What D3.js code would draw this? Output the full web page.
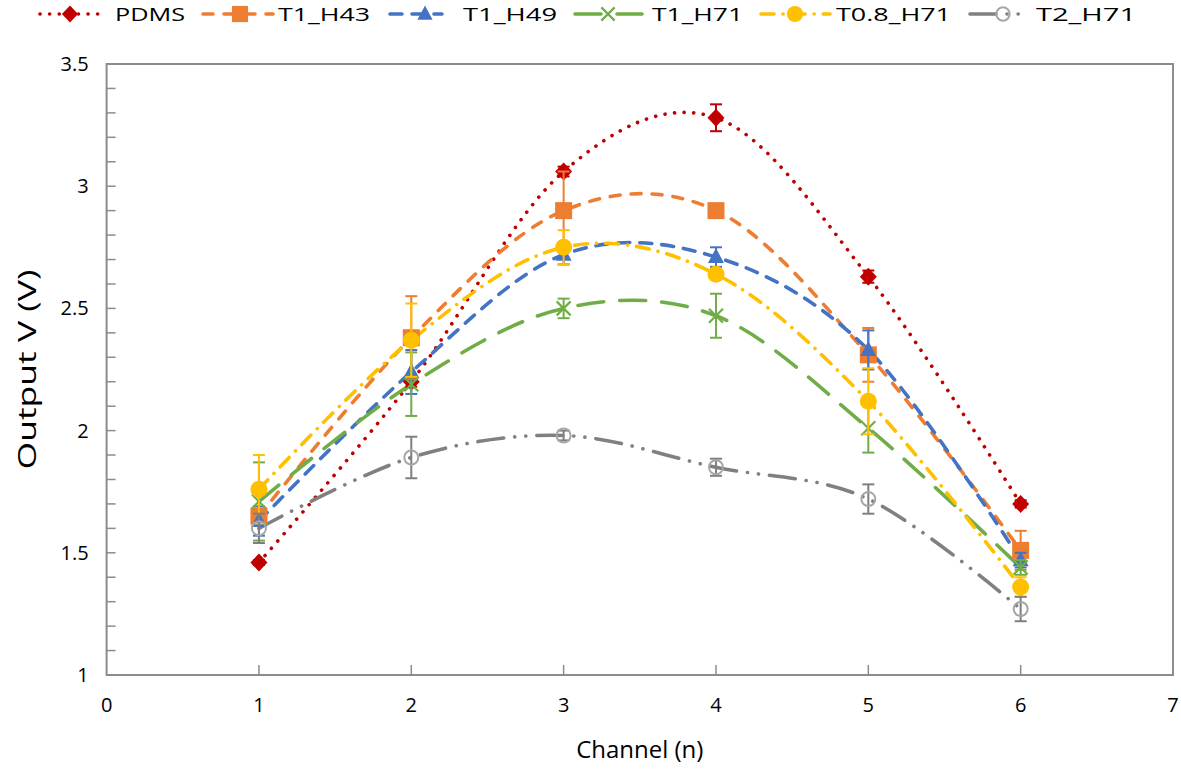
<!DOCTYPE html>
<html><head><meta charset="utf-8">
<script src="https://cdn.jsdelivr.net/npm/d3@7"></script>
<style>body{margin:0;background:#fff}svg{display:block}text{font-family:"Open Sans",sans-serif;fill:#000}</style>
</head><body><svg id="c" width="1181" height="774"></svg>
<script>
// ---- data ----
const channels = [1, 2, 3, 4, 5, 6];
const seriesNames = ["PDMS", "T1_H43", "T1_H49", "T1_H71", "T0.8_H71", "T2_H71"];
const pdms      = [1.46, 2.20, 3.06, 3.28, 2.63, 1.70];
const pdmsErr   = [0.01, 0.02, 0.02, 0.055, 0.025, 0.015];
const t1h43     = [1.65, 2.38, 2.90, 2.90, 2.31, 1.51];
const t1h43Err  = [0.03, 0.17, 0.16, 0.02, 0.11, 0.08];
const t1h49     = [1.63, 2.24, 2.72, 2.71, 2.33, 1.47];
const t1h49Err  = [0.06, 0.09, 0.04, 0.04, 0.08, 0.03];
const t1h71     = [1.71, 2.19, 2.50, 2.47, 2.01, 1.44];
const t1h71Err  = [0.16, 0.13, 0.04, 0.09, 0.10, 0.03];
const t08h71    = [1.76, 2.37, 2.75, 2.64, 2.12, 1.36];
const t08h71Err = [0.14, 0.15, 0.07, 0.02, 0.135, 0.04];
const t2h71     = [1.60, 1.89, 1.98, 1.85, 1.72, 1.27];
const t2h71Err  = [0.06, 0.085, 0.02, 0.035, 0.06, 0.05];
const xTicks = [0, 1, 2, 3, 4, 5, 6, 7];
const yTicks = [1, 1.5, 2, 2.5, 3, 3.5];
const xTitle = "Channel (n)";
const yTitle = "Output V (V)";

const values = [pdms, t1h43, t1h49, t1h71, t08h71, t2h71];
const errors = [pdmsErr, t1h43Err, t1h49Err, t1h71Err, t08h71Err, t2h71Err];

// ---- styles ----
const styles = [
  {color:"#C00000", dash:"0.1 9.5", marker:"diamond"},
  {color:"#ED7D31", dash:"10 11", marker:"square"},
  {color:"#4472C4", dash:"12 10", marker:"triangle"},
  {color:"#70AD47", dash:"26 16", marker:"x"},
  {color:"#FFC000", dash:"13 9 0.1 9", marker:"circle"},
  {color:"#808080", dash:"26 11 0.1 11 0.1 11", marker:"ocircle"}
];
const legendPos = [
  {x0:40, x1:102, m:70, t:115, w:70},
  {x0:203, x1:273, m:240, t:278, w:92},
  {x0:390, x1:442, m:425, t:463, w:94},
  {x0:575, x1:642, m:608, t:652, w:91},
  {x0:761, x1:830, m:795, t:836, w:115},
  {x0:970, x1:1028, m:1003, t:1036, w:100}
];

const L = 106.6, R = 1173, T = 64, B = 675;
const svg = d3.select("#c");
const x = d3.scaleLinear().domain([0, 7]).range([L, R]);
const y = d3.scaleLinear().domain([1, 3.5]).range([B, T]);

// frame
svg.append("rect").attr("x", L).attr("y", T).attr("width", R - L).attr("height", B - T)
  .attr("fill", "none").attr("stroke", "#8c8c8c").attr("stroke-width", 2);

// y axis ticks (inside)
const yMinor = d3.range(1, 3.5001, 0.1);
svg.append("g").selectAll("line").data(yMinor).join("line")
  .attr("x1", L).attr("x2", L + 9).attr("y1", d => y(d)).attr("y2", d => y(d))
  .attr("stroke", "#8c8c8c").attr("stroke-width", 1.5);
svg.append("g").selectAll("text").data(yTicks).join("text")
  .attr("x", L - 18).attr("y", d => y(d)).attr("dy", "0.35em").attr("text-anchor", "end")
  .attr("font-size", 20).text(d => d);
// x axis ticks (inside, upward)
svg.append("g").selectAll("line").data(xTicks.slice(1, -1)).join("line")
  .attr("x1", d => x(d)).attr("x2", d => x(d)).attr("y1", B).attr("y2", B - 10)
  .attr("stroke", "#8c8c8c").attr("stroke-width", 1.5);
svg.append("g").selectAll("text").data(xTicks).join("text")
  .attr("x", d => x(d)).attr("y", B + 37).attr("text-anchor", "middle")
  .attr("font-size", 20).text(d => d);

svg.append("text").attr("x", x(3.5)).attr("y", 758).attr("text-anchor", "middle")
  .attr("font-size", 24).text(xTitle);
svg.append("text").attr("transform", `translate(36,${y(2.25)}) rotate(-90)`)
  .attr("text-anchor", "middle").attr("font-size", 26)
  .attr("textLength", 200).attr("lengthAdjust", "spacingAndGlyphs").text(yTitle);

function drawMarker(g, type, color, cx, cy, s) {
  s = s || 1;
  if (type === "diamond") {
    g.append("path").attr("d", `M${cx},${cy-9*s}L${cx+8.5*s},${cy}L${cx},${cy+9*s}L${cx-8.5*s},${cy}Z`).attr("fill", color);
  } else if (type === "square") {
    g.append("rect").attr("x", cx-8.5*s).attr("y", cy-8.5*s).attr("width", 17*s).attr("height", 17*s).attr("fill", color);
  } else if (type === "triangle") {
    g.append("path").attr("d", `M${cx},${cy-9*s}L${cx+8*s},${cy+6*s}L${cx-8*s},${cy+6*s}Z`).attr("fill", color);
  } else if (type === "x") {
    g.append("path").attr("d", `M${cx-7*s},${cy-7*s}L${cx+7*s},${cy+7*s}M${cx+7*s},${cy-7*s}L${cx-7*s},${cy+7*s}`)
      .attr("stroke", color).attr("stroke-width", 2.2).attr("fill", "none");
  } else if (type === "circle") {
    g.append("circle").attr("cx", cx).attr("cy", cy).attr("r", 8.5*s).attr("fill", color);
  } else if (type === "ocircle") {
    g.append("circle").attr("cx", cx).attr("cy", cy).attr("r", 7*s).attr("fill", "none")
      .attr("stroke", "#A6A6A6").attr("stroke-width", 2);
  }
}

const line = d3.line().x((d, i) => x(channels[i])).y(d => y(d)).curve(d3.curveCardinal.tension(0));

// lines
values.forEach((vals, si) => {
  svg.append("path").attr("d", line(vals)).attr("fill", "none")
    .attr("stroke", styles[si].color).attr("stroke-width", 3.6)
    .attr("stroke-dasharray", styles[si].dash).attr("stroke-linecap", "round");
});
// error bars + markers
values.forEach((vals, si) => {
  const g = svg.append("g");
  const col = si === 5 ? "#7F7F7F" : styles[si].color;
  vals.forEach((v, i) => {
    const cx = x(channels[i]), e = errors[si][i];
    g.append("line").attr("x1", cx).attr("x2", cx).attr("y1", y(v - e)).attr("y2", y(v + e))
      .attr("stroke", col).attr("stroke-width", 2);
    [v - e, v + e].forEach(w => g.append("line").attr("x1", cx - 6).attr("x2", cx + 6)
      .attr("y1", y(w)).attr("y2", y(w)).attr("stroke", col).attr("stroke-width", 2));
    drawMarker(g, styles[si].marker, styles[si].color, cx, y(v));
  });
});

// legend
const ly = 14;
seriesNames.forEach((name, si) => {
  const p = legendPos[si], g = svg.append("g");
  g.append("line").attr("x1", p.x0).attr("x2", p.x1).attr("y1", ly).attr("y2", ly)
    .attr("stroke", styles[si].color).attr("stroke-width", 3.6)
    .attr("stroke-dasharray", styles[si].dash).attr("stroke-linecap", "round");
  drawMarker(g, styles[si].marker, styles[si].color, p.m, ly, 0.95);
  g.append("text").attr("x", p.t).attr("y", ly).attr("dy", "0.36em").attr("font-size", 19)
    .attr("textLength", p.w).attr("lengthAdjust", "spacingAndGlyphs").text(name);
});
</script></body></html>
